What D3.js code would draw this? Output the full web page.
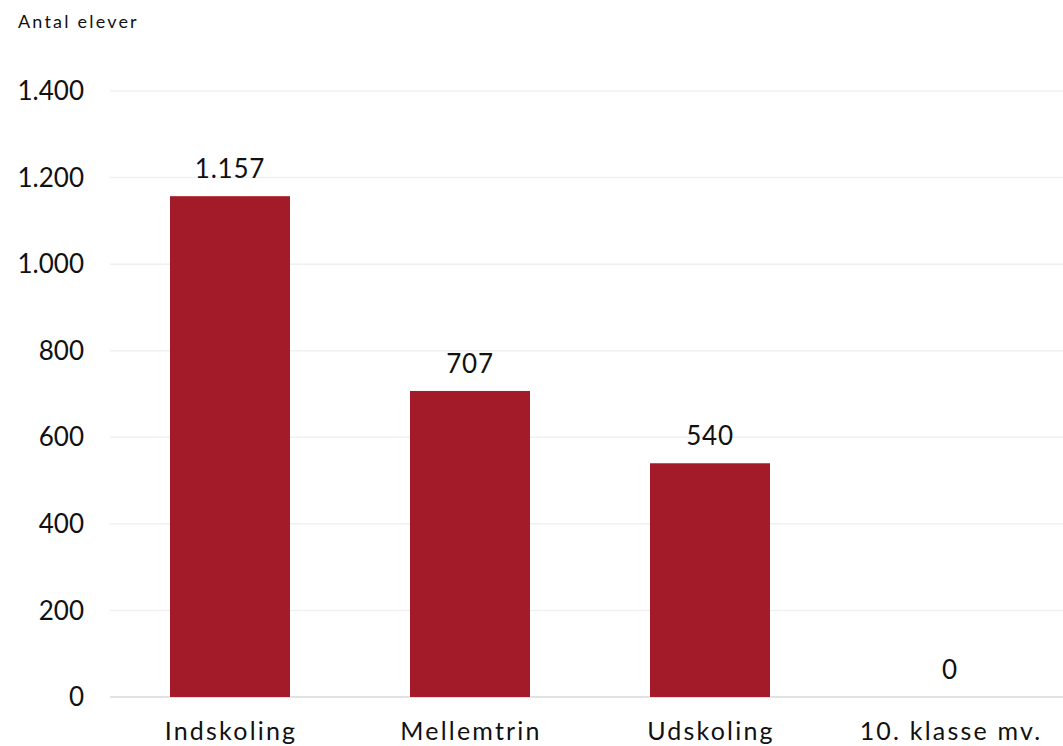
<!DOCTYPE html>
<html>
<head>
<meta charset="utf-8">
<script src="https://cdn.jsdelivr.net/npm/d3@7"></script>
<style>
  body { margin: 0; background: #fff; }
  svg { display: block; font-family: Lato, "Open Sans", sans-serif; }
</style>
</head>
<body>
<div id="chart"></div>
<script>
var categories = ["Indskoling", "Mellemtrin", "Udskoling", "10. klasse mv."],
    values = [1157, 707, 540, 0],
    yTicks = [0, 200, 400, 600, 800, 1000, 1200, 1400];

var width = 1063, height = 746,
    margin = {top: 91, right: -7, bottom: 49, left: 110};

var svg = d3.select("#chart").append("svg")
    .attr("width", width)
    .attr("height", height);

var x = d3.scaleBand()
    .domain(categories)
    .range([margin.left, width - margin.right])
    .paddingInner(0.5)
    .paddingOuter(0.25);

var y = d3.scaleLinear()
    .domain([0, 1400])
    .range([height - margin.bottom, margin.top]);

var fmt = function(v) { return d3.format(",")(v).replace(/,/g, "."); };

// gridlines
svg.append("g").selectAll("line")
    .data(yTicks)
  .enter().append("line")
    .attr("x1", margin.left)
    .attr("x2", width)
    .attr("y1", function(d) { return y(d); })
    .attr("y2", function(d) { return y(d); })
    .attr("stroke", function(d) { return d === 0 ? "#d9d9d9" : "#f0f0f0"; })
    .attr("stroke-width", 1.5);

// y tick labels
svg.append("g").selectAll("text")
    .data(yTicks)
  .enter().append("text")
    .attr("x", 84)
    .attr("y", function(d) { return y(d); })
    .attr("dy", "0.35em")
    .attr("text-anchor", "end")
    .attr("font-size", 26)
    .attr("fill", "#111")
    .text(fmt);

svg.append("text")
    .attr("x", 18)
    .attr("y", 28)
    .attr("font-size", 18)
    .attr("letter-spacing", 2.2)
    .attr("fill", "#111")
    .text("Antal elever");

// bars
svg.append("g").selectAll("rect")
    .data(values)
  .enter().append("rect")
    .attr("x", function(d, i) { return x(categories[i]); })
    .attr("y", function(d) { return y(d); })
    .attr("width", x.bandwidth())
    .attr("height", function(d) { return y(0) - y(d); })
    .attr("fill", "#a31a29");

// value labels
svg.append("g").selectAll("text")
    .data(values)
  .enter().append("text")
    .attr("x", function(d, i) { return x(categories[i]) + x.bandwidth() / 2; })
    .attr("y", function(d) { return y(d) - 27; })
    .attr("dy", "0.35em")
    .attr("text-anchor", "middle")
    .attr("font-size", 26)
    .attr("letter-spacing", 0.8)
    .attr("fill", "#111")
    .text(fmt);

// category labels
svg.append("g").selectAll("text")
    .data(categories)
  .enter().append("text")
    .attr("x", function(d) { return x(d) + x.bandwidth() / 2 + 1; })
    .attr("y", 731)
    .attr("dy", "0.35em")
    .attr("text-anchor", "middle")
    .attr("font-size", 25)
    .attr("letter-spacing", 2.2)
    .attr("fill", "#111")
    .text(function(d) { return d; });
</script>
</body>
</html>
